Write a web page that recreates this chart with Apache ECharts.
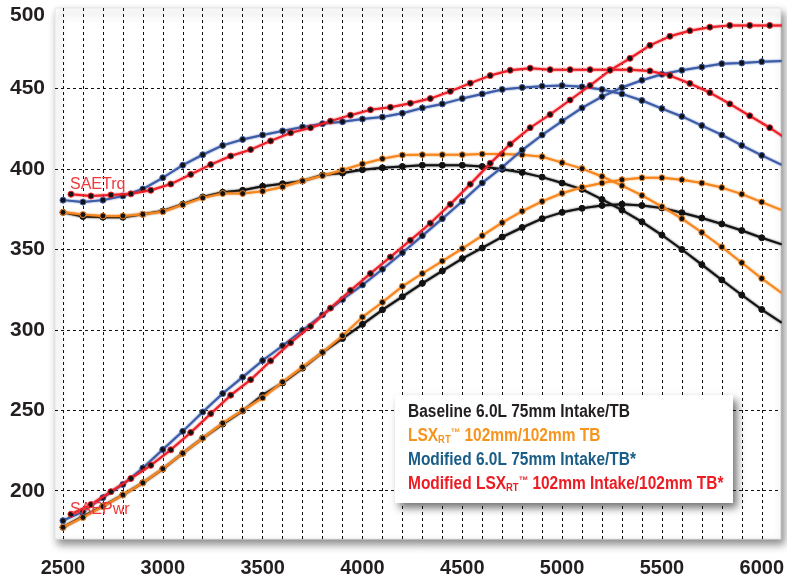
<!DOCTYPE html>
<html>
<head>
<meta charset="utf-8">
<script src="https://cdn.jsdelivr.net/npm/echarts@6/dist/echarts.min.js"></script>
<style>
  html, body { margin: 0; padding: 0; background: #fff; }
  #chart { width: 787px; height: 578px; }
</style>
</head>
<body>
<div id="chart"></div>
<script>
// rpm points (baseline, LSX, modified 6.0L) and the shifted rpm of the modified LSX run
const rpm = [2500, 2600, 2700, 2800, 2900, 3000, 3100, 3200, 3300, 3400, 3500, 3600, 3700, 3800, 3900,
  4000, 4100, 4200, 4300, 4400, 4500, 4600, 4700, 4800, 4900, 5000, 5100, 5200, 5300, 5400, 5500,
  5600, 5700, 5800, 5900, 6000, 6100];
const rpmMod = [2540, 2640, 2740, 2840, 2940, 3040, 3140, 3240, 3340, 3440, 3540, 3640, 3740, 3840, 3940,
  4040, 4140, 4240, 4340, 4440, 4540, 4640, 4740, 4840, 4940, 5040, 5140, 5240, 5340, 5440, 5540,
  5640, 5740, 5840, 5940, 6040, 6140];

// torque (SAETrq)
const baseTrq = [373.0, 370.4, 370.0, 370.0, 371.8, 373.8, 378.1, 382.6, 385.5, 386.7, 389.2, 390.8, 392.5,
  396.2, 397.4, 399.5, 400.7, 401.5, 402.3, 402.3, 402.3, 401.5, 399.8, 397.8, 394.9, 391.2, 387.3,
  381.0, 374.4, 367.1, 358.9, 349.9, 340.5, 331.0, 321.6, 312.6, 304.4];
const lsxTrq = [373.0, 371.6, 370.8, 370.8, 371.8, 373.4, 377.7, 382.0, 384.7, 384.7, 386.1, 388.8, 392.6,
  395.8, 399.3, 403.1, 406.3, 408.6, 408.8, 408.8, 408.8, 409.2, 409.2, 408.8, 407.6, 403.9, 400.2,
  395.3, 389.6, 383.5, 376.5, 369.1, 360.5, 351.5, 341.7, 331.9, 322.9];
const modTrq = [380.6, 379.4, 380.6, 383.2, 387.5, 394.5, 402.3, 408.8, 414.6, 418.3, 421.1, 423.6, 426.0,
  428.1, 429.3, 431.0, 432.2, 434.6, 437.9, 440.4, 443.7, 446.6, 449.4, 450.6, 451.4, 451.8, 451.0,
  449.4, 446.6, 442.5, 437.5, 432.6, 426.9, 421.1, 414.6, 408.4, 402.5];
const modLsxTrq = [384.3, 383.2, 383.8, 384.5, 386.7, 390.6, 396.6, 402.7, 408.0, 412.0, 417.4, 422.4, 425.6,
  429.7, 433.4, 436.7, 438.3, 440.8, 443.7, 448.2, 453.3, 458.0, 461.3, 462.6, 461.7, 461.7, 461.7,
  461.7, 461.7, 460.9, 458.0, 453.1, 447.4, 440.4, 433.0, 425.6, 417.3];

// power (SAEPwr)
const basePwr = [177.3, 184.0, 190.5, 197.4, 204.9, 213.5, 223.3, 232.7, 241.4, 249.6, 259.4, 267.0, 276.2,
  286.0, 294.6, 303.4, 312.4, 320.6, 328.9, 336.6, 344.3, 350.9, 357.7, 363.6, 369.1, 373.0, 375.5,
  377.3, 378.1, 377.3, 375.7, 372.8, 369.5, 365.8, 361.7, 357.2, 353.1];
const lsxPwr = [177.3, 183.4, 190.2, 197.4, 204.9, 213.7, 223.3, 232.7, 242.0, 249.9, 257.7, 267.6, 276.8,
  286.0, 296.3, 307.9, 317.1, 327.0, 335.0, 342.7, 350.5, 358.5, 366.6, 373.7, 379.8, 384.9, 388.6,
  391.2, 393.3, 394.5, 394.5, 393.3, 391.2, 388.4, 384.3, 379.4, 374.4];
const modPwr = [181.4, 187.1, 195.7, 203.9, 214.1, 225.6, 236.9, 248.9, 260.4, 270.6, 280.9, 290.1, 299.7,
  309.3, 318.8, 327.9, 337.6, 347.9, 358.5, 369.1, 379.9, 391.3, 401.0, 411.7, 421.1, 429.7, 437.9,
  444.9, 450.6, 455.1, 458.8, 461.3, 463.3, 465.4, 465.8, 466.6, 467.0];
const modLsxPwr = [185.4, 191.4, 199.4, 207.6, 215.8, 225.4, 236.2, 247.9, 259.4, 269.0, 280.7, 292.0, 302.2,
  313.5, 324.5, 335.0, 345.2, 355.6, 366.3, 378.0, 390.5, 403.5, 415.4, 425.6, 433.8, 442.8, 451.8,
  461.3, 468.7, 476.8, 482.4, 485.9, 488.1, 489.2, 489.2, 489.2, 489.2];

// tick labels
const xLabels = [2500, 3000, 3500, 4000, 4500, 5000, 5500, 6000];
const yLabels = [200, 250, 300, 350, 400, 450, 500];

const xGrid = [];
for (let v = 2500; v <= 6000; v += 100) xGrid.push(v);
const yGrid = [200, 250, 300, 350, 400, 450];

const BLACK = '#141414';
const ORANGE = '#f7861e';
const BLUE = '#3d5ca8';
const RED = '#ee1f27';

const sans = "'Liberation Sans', Arial, sans-serif";

const myChart = echarts.init(document.getElementById('chart'));

const line = (name, xs, ys, color, z) => ({
  name: name,
  type: 'line',
  data: xs.map((x, i) => [x, ys[i]]),
  symbol: 'circle',
  symbolSize: 6,
  z: z,
  clip: true,
  lineStyle: { color: color, width: 2, shadowColor: color, shadowBlur: 2 },
  itemStyle: { color: '#111', borderColor: color, borderWidth: 1 },
  emphasis: { disabled: true }
});

// legend rows are condensed horizontally, like the narrow face of the original
const legendText = (y, parts) => ({
  type: 'text',
  x: 408,
  y: y,
  scaleX: 0.86,
  z: 101,
  style: {
    text: parts,
    verticalAlign: 'middle',
    rich: {
      k: { fill: '#231f20', font: 'bold 18px ' + sans },
      o: { fill: '#f7941d', font: 'bold 18px ' + sans },
      os: { fill: '#f7941d', font: 'bold 11px ' + sans, verticalAlign: 'bottom' },
      ot: { fill: '#f7941d', font: 'bold 11px ' + sans, verticalAlign: 'top' },
      b: { fill: '#1a5d87', font: 'bold 18px ' + sans },
      r: { fill: '#ed1c24', font: 'bold 18px ' + sans },
      rs: { fill: '#ed1c24', font: 'bold 11px ' + sans, verticalAlign: 'bottom' },
      rt: { fill: '#ed1c24', font: 'bold 11px ' + sans, verticalAlign: 'top' }
    }
  }
});

const option = {
  animation: false,
  backgroundColor: '#fff',
  grid: {
    left: 55, right: 5, top: 8, bottom: 35,
    show: true,
    backgroundColor: '#fff',
    borderColor: '#e4e4e4',
    borderWidth: 1,
    shadowBlur: 8,
    shadowColor: 'rgba(0,0,0,0.45)',
    shadowOffsetX: 3,
    shadowOffsetY: 5
  },
  xAxis: {
    type: 'value',
    min: 2460,
    max: 6095,
    axisLine: { show: false },
    axisTick: { show: false, customValues: xGrid },
    splitLine: { show: true, lineStyle: { color: '#111', type: [3, 3], width: 1 } },
    axisLabel: {
      customValues: xLabels,
      margin: 19,
      color: '#231f20',
      fontFamily: sans,
      fontWeight: 'bold',
      fontSize: 20,
      formatter: v => String(v)
    }
  },
  yAxis: {
    type: 'value',
    min: 170,
    max: 500,
    axisLine: { show: false },
    axisTick: { show: false, customValues: yGrid },
    splitLine: { show: true, lineStyle: { color: '#111', type: [3, 3], width: 1 } },
    axisLabel: {
      customValues: yLabels,
      margin: 10,
      color: '#231f20',
      fontFamily: sans,
      fontWeight: 'bold',
      fontSize: 21,
      formatter: v => (v === 500 ? '{top|500}' : String(v)),
      rich: {
        top: {
          padding: [14, 0, 0, 0],
          color: '#231f20',
          fontFamily: sans,
          fontWeight: 'bold',
          fontSize: 21
        }
      }
    }
  },
  graphic: [
    { type: 'text', x: 70, y: 185, z: 50,
      style: { text: 'SAETrq', fill: '#ee3a3a', font: '16px ' + sans, verticalAlign: 'middle' } },
    { type: 'text', x: 70, y: 510, z: 50,
      style: { text: 'SAEPwr', fill: '#ee3a3a', font: '16px ' + sans, verticalAlign: 'middle' } },
    { type: 'rect', z: 100,
      shape: { x: 395, y: 395, width: 338, height: 108 },
      style: { fill: '#fff', shadowBlur: 8, shadowOffsetX: 4, shadowOffsetY: 5, shadowColor: 'rgba(0,0,0,0.55)' } },
    legendText(412, '{k|Baseline 6.0L 75mm Intake/TB}'),
    legendText(436, '{o|LSX}{os|RT}{ot|™}{o| 102mm/102mm TB}'),
    legendText(460, '{b|Modified 6.0L 75mm Intake/TB*}'),
    legendText(484, '{r|Modified LSX}{rs|RT}{rt|™}{r| 102mm Intake/102mm TB*}')
  ],
  series: [
    line('Baseline Trq', rpm, baseTrq, BLACK, 2),
    line('Baseline Pwr', rpm, basePwr, BLACK, 2),
    line('LSX Trq', rpm, lsxTrq, ORANGE, 3),
    line('LSX Pwr', rpm, lsxPwr, ORANGE, 3),
    line('Modified Trq', rpm, modTrq, BLUE, 4),
    line('Modified Pwr', rpm, modPwr, BLUE, 4),
    line('Modified LSX Trq', rpmMod, modLsxTrq, RED, 5),
    line('Modified LSX Pwr', rpmMod, modLsxPwr, RED, 5)
  ]
};

myChart.setOption(option);

window.addEventListener('resize', () => {
  myChart.resize();
});
</script>
</body>
</html>
